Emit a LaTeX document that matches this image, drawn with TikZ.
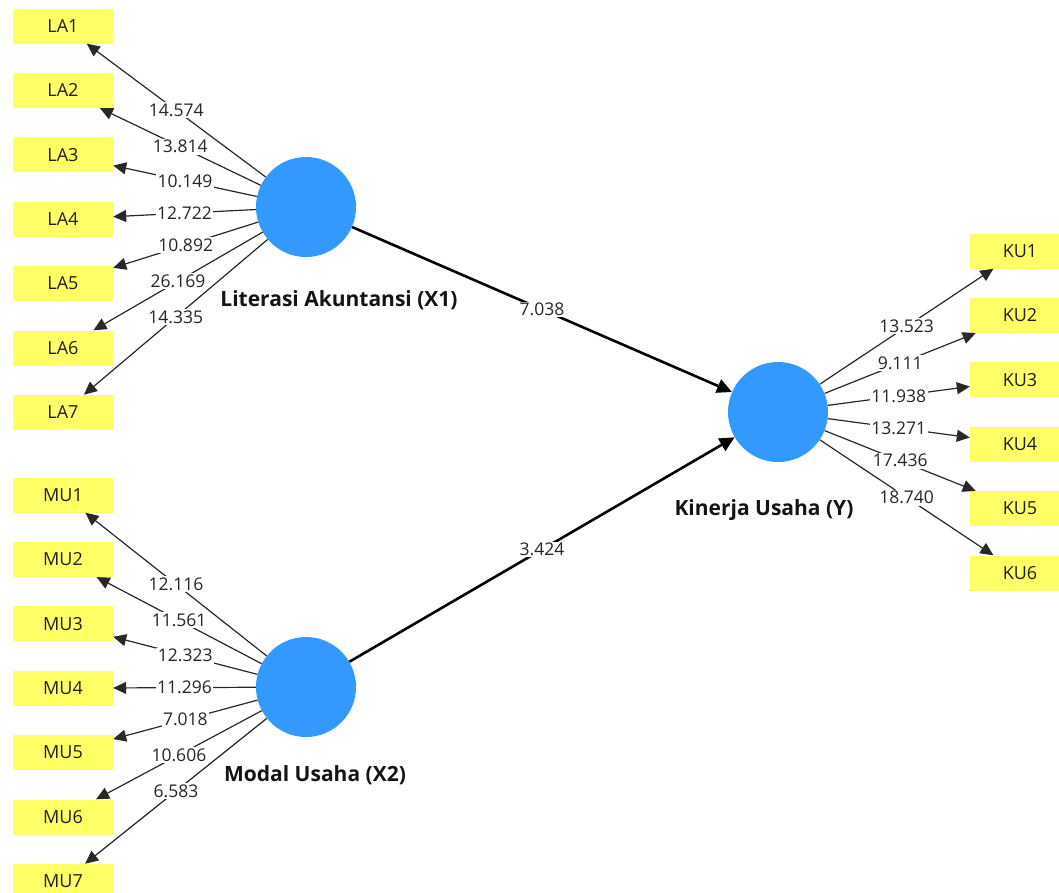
\documentclass[tikz,border=0pt]{standalone}
\usepackage{fontspec}
\setmainfont{Open Sans}
\usetikzlibrary{arrows.meta}
\definecolor{indyellow}{RGB}{255,255,102}
\definecolor{latblue}{RGB}{51,153,255}
\definecolor{linegray}{RGB}{40,40,40}
\tikzset{
  ind/.style={fill=indyellow, draw=none, minimum width=100pt, minimum height=35pt, inner sep=0pt, font=\fontsize{18}{20}\selectfont, text=black!88},
  lat/.style={circle, fill=latblue, draw=none, minimum size=100pt, inner sep=0pt},
  latlabel/.style={font=\fontsize{21}{24}\selectfont\bfseries, text=black!92},
  load/.style={draw=linegray, line width=1.2pt, -{Triangle[length=13pt,width=12pt]}},
  path/.style={draw=black, line width=2.6pt, -{Triangle[length=15pt,width=14pt]}},
  val/.style={midway, fill=white, inner sep=1.5pt, font=\fontsize{17.5}{19}\selectfont, text=black!85}
}
\begin{document}
\begin{tikzpicture}[x=1pt,y=-1pt]
\useasboundingbox (0,0) rectangle (1059,892);
\clip (0,0) rectangle (1059,892);
% indicators
\foreach \i in {1,...,7} {
  \node[ind] (LA\i) at (63,{26+64.4*(\i-1)}) {LA\i};
  \node[ind] (MU\i) at (63,{495+64.4*(\i-1)}) {MU\i};
}
\foreach \i in {1,...,6} {
  \node[ind] (KU\i) at (1020,{251+64.4*(\i-1)}) {KU\i};
}
% latent variables
\node[lat] (X1) at (306,207) {};
\node[lat] (X2) at (306,687) {};
\node[lat] (Y) at (778,412) {};
\node[latlabel] (X1lab) at (339,300) {Literasi Akuntansi (X1)};
\node[latlabel] (X2lab) at (315,775) {Modal Usaha (X2)};
\node[latlabel] (Ylab) at (764,510) {Kinerja Usaha (Y)};
% loadings X1
\draw[load] (X1) -- node[val] {14.574} (LA1);
\draw[load] (X1) -- node[val] {13.814} (LA2);
\draw[load] (X1) -- node[val] {10.149} (LA3);
\draw[load] (X1) -- node[val] {12.722} (LA4);
\draw[load] (X1) -- node[val] {10.892} (LA5);
\draw[load] (X1) -- node[val] {26.169} (LA6);
\draw[load] (X1) -- node[val] {14.335} (LA7);
% loadings X2
\draw[load] (X2) -- node[val] {12.116} (MU1);
\draw[load] (X2) -- node[val] {11.561} (MU2);
\draw[load] (X2) -- node[val] {12.323} (MU3);
\draw[load] (X2) -- node[val] {11.296} (MU4);
\draw[load] (X2) -- node[val] {7.018} (MU5);
\draw[load] (X2) -- node[val] {10.606} (MU6);
\draw[load] (X2) -- node[val] {6.583} (MU7);
% loadings Y
\draw[load] (Y) -- node[val] {13.523} (KU1);
\draw[load] (Y) -- node[val] {9.111} (KU2);
\draw[load] (Y) -- node[val] {11.938} (KU3);
\draw[load] (Y) -- node[val] {13.271} (KU4);
\draw[load] (Y) -- node[val] {17.436} (KU5);
\draw[load] (Y) -- node[val] {18.740} (KU6);
% structural paths
\draw[path] (X1) -- node[val] {7.038} (Y);
\draw[path] (X2) -- node[val] {3.424} (Y);
\end{tikzpicture}
\end{document}
